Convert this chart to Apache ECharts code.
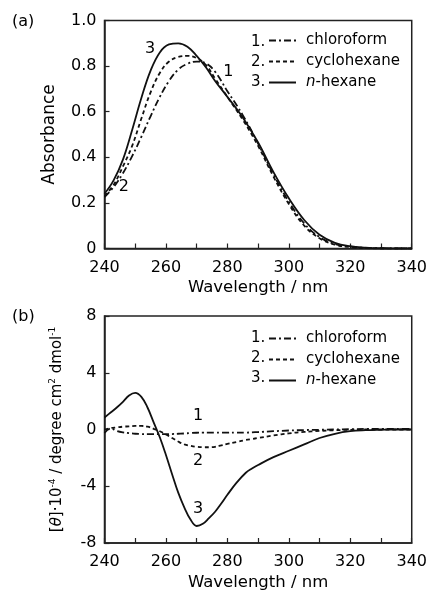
<!DOCTYPE html>
<html>
<head>
<meta charset="utf-8">
<script src="https://cdn.jsdelivr.net/npm/echarts@6/dist/echarts.min.js"></script>
<style>
html, body { margin: 0; padding: 0; background: #fff; }
#main { width: 430px; height: 592px; }
</style>
</head>
<body>
<div id="main"></div>
<script>
// (a) absorbance spectra
var wlA = [240, 243, 246, 249, 252, 255, 258, 261, 264, 267, 270, 273, 276, 280, 285, 290, 295, 300, 305, 310, 315, 320, 325, 330, 335, 340];
var absChloroform = [0.225, 0.27, 0.33, 0.405, 0.49, 0.58, 0.665, 0.735, 0.785, 0.81, 0.82, 0.812, 0.775, 0.69, 0.585, 0.46, 0.325, 0.205, 0.11, 0.05, 0.02, 0.008, 0.003, 0.001, 0, 0];
var absCyclohexane = [0.23, 0.28, 0.36, 0.45, 0.57, 0.685, 0.77, 0.82, 0.84, 0.845, 0.835, 0.805, 0.745, 0.665, 0.565, 0.45, 0.315, 0.195, 0.1, 0.045, 0.017, 0.006, 0.002, 0, 0, 0];
var absHexane = [0.24, 0.3, 0.39, 0.52, 0.66, 0.78, 0.86, 0.895, 0.9, 0.885, 0.845, 0.795, 0.735, 0.665, 0.575, 0.465, 0.335, 0.22, 0.125, 0.06, 0.025, 0.01, 0.004, 0.001, 0, 0];

// (b) CD spectra, [theta]*10^-4
var wlB = [240, 242, 244, 246, 248, 250, 252, 254, 256, 258, 260, 262, 264, 266, 268, 270, 272, 274, 276, 278, 280, 283, 286, 288, 290, 295, 300, 305, 310, 315, 320, 325, 330, 335, 340];
var cdChloroform = [-0.25, 0.08, -0.1, -0.2, -0.25, -0.3, -0.32, -0.33, -0.33, -0.33, -0.33, -0.32, -0.3, -0.28, -0.25, -0.23, -0.22, -0.22, -0.22, -0.22, -0.22, -0.22, -0.22, -0.2, -0.18, -0.12, -0.07, -0.04, -0.02, 0, 0.02, 0.04, 0.05, 0.05, 0.05];
var cdCyclohexane = [0, 0.1, 0.15, 0.2, 0.22, 0.25, 0.25, 0.2, 0.05, -0.12, -0.35, -0.6, -0.85, -1.05, -1.15, -1.22, -1.25, -1.25, -1.22, -1.12, -1.02, -0.88, -0.74, -0.67, -0.6, -0.42, -0.27, -0.17, -0.1, -0.05, -0.02, 0, 0, 0, 0];
var cdHexane = [0.85, 1.2, 1.55, 1.95, 2.4, 2.58, 2.3, 1.55, 0.5, -0.55, -1.8, -3.15, -4.45, -5.5, -6.35, -6.8, -6.65, -6.25, -5.8, -5.22, -4.6, -3.75, -3.05, -2.75, -2.5, -1.95, -1.5, -1.05, -0.6, -0.3, -0.12, -0.05, -0.02, 0, 0];

var seriesNames = ["chloroform", "cyclohexane", "n-hexane"];
var lineTypes = [[7, 3, 2, 3], [4, 3], "solid"];

var absTickLabels = ["0", "0.2", "0.4", "0.6", "0.8", "1.0"];

function pairs(xs, ys) {
    return xs.map(function (x, i) {
        return [x, ys[i]];
    });
}

var font = "DejaVu Sans";

function curveLabel(coord, text) {
    return {
        silent: true,
        symbol: "circle",
        symbolSize: 0,
        label: { show: true, position: "inside", formatter: text, color: "#000", fontSize: 16, fontFamily: font },
        data: [{ coord: coord }],
    };
}

function makeLine(name, idx, data, type, mark) {
    return {
        name: name,
        type: "line",
        xAxisIndex: idx,
        yAxisIndex: idx,
        data: data,
        smooth: 0.4,
        symbol: "none",
        showSymbol: false,
        lineStyle: { color: "#111", width: 1.8, type: type },
        itemStyle: { color: "#111" },
        markPoint: mark,
        z: 3,
    };
}

function xAxisCfg(idx) {
    return {
        gridIndex: idx,
        type: "value",
        min: 240,
        max: 340,
        interval: 20,
        name: "Wavelength / nm",
        nameLocation: "middle",
        nameGap: 31,
        nameTextStyle: { color: "#000", fontSize: 16.5, fontFamily: font },
        axisLine: { onZero: false, lineStyle: { color: "#222", width: 1.5 } },
        axisTick: { inside: true, length: 5, lineStyle: { color: "#222", width: 1.2 } },
        minorTick: { show: true, splitNumber: 2, length: 5, lineStyle: { color: "#222", width: 1.2 } },
        axisLabel: { color: "#000", fontSize: 16, fontFamily: font, margin: 11 },
        splitLine: { show: false },
    };
}

var legendBase = {
    data: seriesNames,
    orient: "vertical",
    left: 268,
    itemWidth: 27,
    itemHeight: 14,
    itemGap: 6,
    padding: 0,
    selectedMode: false,
    itemStyle: { opacity: 0 },
    textStyle: {
        color: "#000",
        fontSize: 15,
        fontFamily: font,
        padding: [0, 0, 0, 5],
        rich: { i: { fontStyle: "italic", fontSize: 15, fontFamily: font, color: "#000" } },
    },
    formatter: function (name) {
        return name === "n-hexane" ? "{i|n}-hexane" : name;
    },
};

var chart = echarts.init(document.getElementById("main"));

chart.setOption({
    animation: false,
    textStyle: { fontFamily: font },
    grid: [
        { left: 104.5, top: 20.5, width: 307.5, height: 228, show: true, borderColor: "#222", borderWidth: 1.5 },
        { left: 104.5, top: 316, width: 307.5, height: 228, show: true, borderColor: "#222", borderWidth: 1.5 },
    ],
    xAxis: [xAxisCfg(0), xAxisCfg(1)],
    yAxis: [
        {
            gridIndex: 0,
            type: "value",
            min: 0,
            max: 1,
            interval: 0.2,
            name: "Absorbance",
            nameLocation: "middle",
            nameGap: 46,
            nameTextStyle: { color: "#000", fontSize: 17, fontFamily: font },
            axisLine: { lineStyle: { color: "#222", width: 1.5 } },
            axisTick: { inside: true, length: 5, lineStyle: { color: "#222", width: 1.2 } },
            axisLabel: {
                color: "#000",
                fontSize: 16,
                fontFamily: font,
                margin: 8,
                formatter: function (v) {
                    return absTickLabels[Math.round(v * 5)];
                },
            },
            splitLine: { show: false },
        },
        {
            gridIndex: 1,
            type: "value",
            min: -8,
            max: 8,
            interval: 4,
            name: "[{it|θ}]·10{sup|-4} / degree cm{sup|2} dmol{sup|-1}",
            nameLocation: "middle",
            nameGap: 38,
            nameTextStyle: {
                color: "#000",
                fontSize: 15,
                fontFamily: font,
                rich: {
                    it: { fontStyle: "italic", fontSize: 15, fontFamily: font, color: "#000" },
                    sup: { fontSize: 9, fontFamily: font, color: "#000", verticalAlign: "top", lineHeight: 18 },
                },
            },
            axisLine: { onZero: false, lineStyle: { color: "#222", width: 1.5 } },
            axisTick: { inside: true, length: 5, lineStyle: { color: "#222", width: 1.2 } },
            axisLabel: { color: "#000", fontSize: 16, fontFamily: font, margin: 8 },
            splitLine: { show: false },
        },
    ],
    legend: [
        Object.assign({}, legendBase, { top: 33 }),
        Object.assign({}, legendBase, { top: 331 }),
    ],
    graphic: [
        { type: "text", left: 12, top: 14, style: { text: "(a)", fontSize: 16, fontFamily: font, fill: "#000" } },
        { type: "text", left: 12, top: 309, style: { text: "(b)", fontSize: 16, fontFamily: font, fill: "#000" } },
        { type: "text", left: 251, top: 32, style: { text: "1.\n2.\n3.", fontSize: 15, lineHeight: 20, fontFamily: font, fill: "#000" } },
        { type: "text", left: 251, top: 328, style: { text: "1.\n2.\n3.", fontSize: 15, lineHeight: 20, fontFamily: font, fill: "#000" } },
    ],
    series: [
        makeLine("chloroform", 0, pairs(wlA, absChloroform), lineTypes[0], curveLabel([280.3, 0.775], "1")),
        makeLine("cyclohexane", 0, pairs(wlA, absCyclohexane), lineTypes[1], curveLabel([246.3, 0.27], "2")),
        makeLine("n-hexane", 0, pairs(wlA, absHexane), lineTypes[2], curveLabel([254.8, 0.877], "3")),
        makeLine("chloroform", 1, pairs(wlB, cdChloroform), lineTypes[0], curveLabel([270.5, 0.93], "1")),
        makeLine("cyclohexane", 1, pairs(wlB, cdCyclohexane), lineTypes[1], curveLabel([270.5, -2.22], "2")),
        makeLine("n-hexane", 1, pairs(wlB, cdHexane), lineTypes[2], curveLabel([270.5, -5.62], "3")),
    ],
});
</script>
</body>
</html>
